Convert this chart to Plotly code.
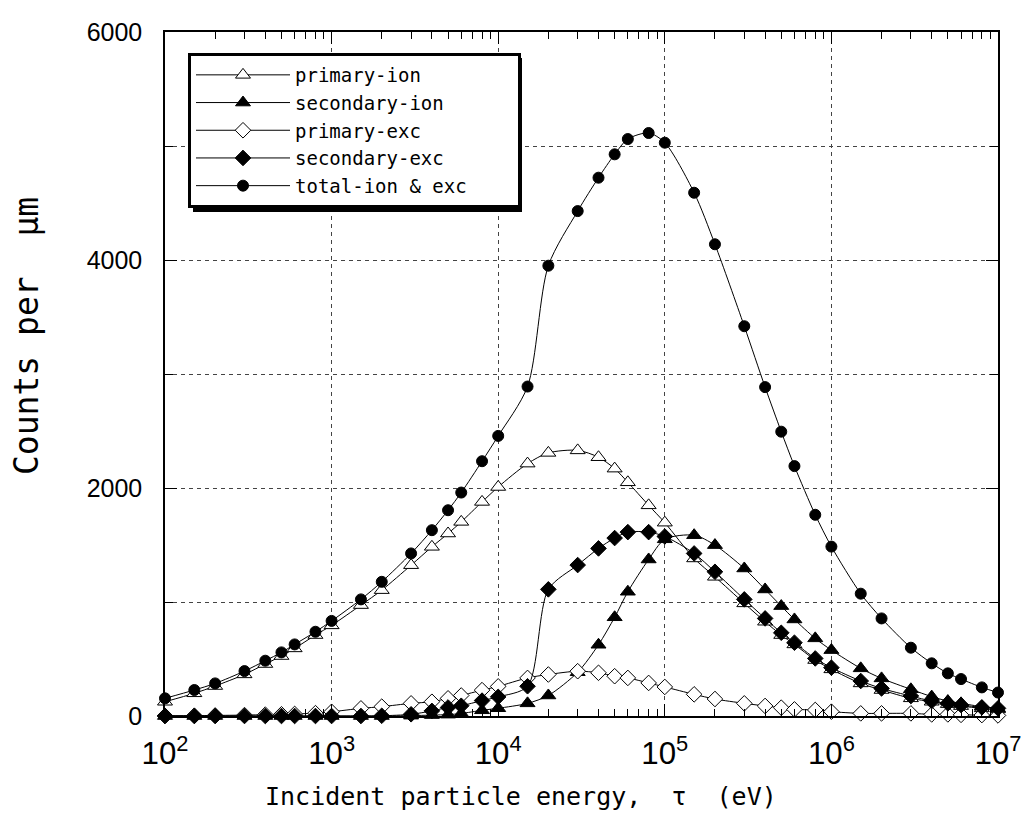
import plotly.graph_objects as go

# ---------------- data ----------------
energy = [1e2, 1.5e2, 2e2, 3e2, 4e2, 5e2, 6e2, 8e2,
          1e3, 1.5e3, 2e3, 3e3, 4e3, 5e3, 6e3, 8e3,
          1e4, 1.5e4, 2e4, 3e4, 4e4, 5e4, 6e4, 8e4,
          1e5, 1.5e5, 2e5, 3e5, 4e5, 5e5, 6e5, 8e5,
          1e6, 1.5e6, 2e6, 3e6, 4e6, 5e6, 6e6, 8e6, 1e7]

primary_ion = [125, 199, 263, 365, 456, 526, 593, 710,
               795, 973, 1104, 1323, 1484, 1601, 1703, 1878,
               2009, 2214, 2308, 2330, 2270, 2170, 2050, 1848,
               1696, 1382, 1221, 988, 827, 710, 628, 491,
               409, 286, 228, 155, 125, 104, 87, 67, 58]

secondary_ion = [0, 0, 0, 0, 0, 0, 0, 0,
                 0, 0, 0, 3, 8, 12, 22, 50,
                 68, 111, 180, 384, 625, 866, 1090, 1373,
                 1550, 1586, 1499, 1294, 1110, 964, 847, 681,
                 578, 418, 330, 234, 170, 131, 111, 82, 67]

primary_exc = [2, 3, 5, 8, 12, 15, 18, 25,
               37, 67, 82, 111, 125, 155, 180, 227,
               260, 334, 364, 393, 379, 349, 334, 290,
               255, 190, 149, 111, 88, 73, 58, 53,
               38, 23, 23, 23, 14, 14, 10, 8, 5]

secondary_exc = [0, 0, 0, 0, 0, 0, 0, 0,
                 0, 0, 2, 15, 45, 75, 90, 135,
                 168, 261, 1111, 1324, 1470, 1561, 1613, 1613,
                 1575, 1426, 1265, 1023, 856, 730, 643, 505,
                 424, 307, 242, 175, 131, 111, 96, 76, 67]

total_ion_exc = [155, 228, 286, 394, 485, 558, 628, 739,
                 834, 1023, 1177, 1426, 1630, 1805, 1960, 2235,
                 2457, 2890, 3950, 4429, 4722, 4927, 5061, 5114,
                 5029, 4590, 4138, 3419, 2885, 2494, 2192, 1765,
                 1486, 1073, 856, 599, 462, 374, 324, 251, 206]

series_names = ["primary-ion", "secondary-ion", "primary-exc",
                "secondary-exc", "total-ion & exc"]
x_title = "Incident particle energy,  τ  (eV)"
y_title = "Counts per  μm"

# ---------------- styling ----------------
series_values = [primary_ion, secondary_ion, primary_exc, secondary_exc, total_ion_exc]
symbols = ["triangle-up", "triangle-up", "diamond", "diamond", "circle"]
fills = ["white", "black", "white", "black", "black"]
sizes = [13, 13, 12, 12, 11]

MONO = "DejaVu Sans Mono"
TICKF = "Liberation Sans Narrow, Liberation Sans, Arial, sans-serif"

W, H = 1021, 839
# plot area in page pixels
P_L, P_R, P_T, P_B = 165, 998, 32, 716
L, T = P_L, P_T
R, B = W - P_R, H - P_B
pw, ph = P_R - P_L, P_B - P_T


def px(x):
    return (x - P_L) / pw


def py(y):
    return 1 - (y - P_T) / ph


fig = go.Figure()
for name, vals, sym, fill, sz in zip(series_names, series_values, symbols, fills, sizes):
    label = name + ("\u00a0" * 4 if name == "total-ion & exc" else "")
    fig.add_trace(go.Scatter(
        x=energy, y=vals, name=label, mode="lines+markers",
        line=dict(color="black", width=1, shape="spline", smoothing=0.8),
        marker=dict(symbol=sym, size=sz, color=fill,
                    line=dict(color="black", width=1)),
        cliponaxis=False,
    ))

# legend box in page pixels (estimated)
lg_left, lg_top, lg_right, lg_bottom = 188, 53, 517, 207
sh = 5
fig.add_shape(type="rect", xref="paper", yref="paper",
              x0=px(lg_left + sh), x1=px(lg_right + sh),
              y0=py(lg_bottom + sh), y1=py(lg_top + sh),
              fillcolor="black", line=dict(width=0), layer="above")

fig.add_annotation(text=x_title, xref="paper", yref="paper",
                   x=px(521), y=py(796), xanchor="center", yanchor="middle",
                   showarrow=False,
                   font=dict(family=MONO, size=25, color="black"))
fig.add_annotation(text=y_title, xref="paper", yref="paper",
                   x=px(26), y=py(336), xanchor="center", yanchor="middle",
                   textangle=-90, showarrow=False,
                   font=dict(family=MONO, size=33, color="black"))

fig.update_layout(
    width=W, height=H,
    margin=dict(l=L, r=R, t=T, b=B, autoexpand=False),
    paper_bgcolor="white", plot_bgcolor="white",
    showlegend=True,
    legend=dict(x=px(lg_left), y=py(lg_top), xanchor="left", yanchor="top",
                bgcolor="white", bordercolor="black", borderwidth=3,
                font=dict(family=MONO, size=19, color="black"),
                itemwidth=94, tracegroupgap=0),
    xaxis=dict(
        type="log", range=[2, 7], dtick=1, exponentformat="power",
        showline=True, linecolor="black", linewidth=1.5, mirror="allticks",
        ticks="inside", ticklen=12, tickcolor="black", tickwidth=1,
        showgrid=True, gridcolor="#444", gridwidth=1, griddash="4px,4px",
        minor=dict(ticks="inside", ticklen=7, dtick="D1", tickcolor="black",
                   showgrid=False),
        tickfont=dict(family=TICKF, size=25, color="black"),
        ticklabelstandoff=10, ticklabeloverflow="allow",
        zeroline=False,
    ),
    yaxis=dict(
        range=[0, 6000], dtick=2000,
        showline=True, linecolor="black", linewidth=1.5, mirror="allticks",
        ticks="inside", ticklen=12, tickcolor="black", tickwidth=1,
        showgrid=True, gridcolor="#444", gridwidth=1, griddash="4px,4px",
        minor=dict(dtick=1000, ticks="inside", ticklen=8, tickcolor="black",
                   showgrid=True, gridcolor="#444", gridwidth=1, griddash="4px,4px"),
        tickfont=dict(family=TICKF, size=25, color="black"),
        ticklabelstandoff=16, ticklabeloverflow="allow",
        zeroline=False,
    ),
)

fig.write_html(
    "out.html",
    config={"displayModeBar": False},
    post_script="document.body.style.margin='0px';document.body.style.overflow='hidden';",
)
